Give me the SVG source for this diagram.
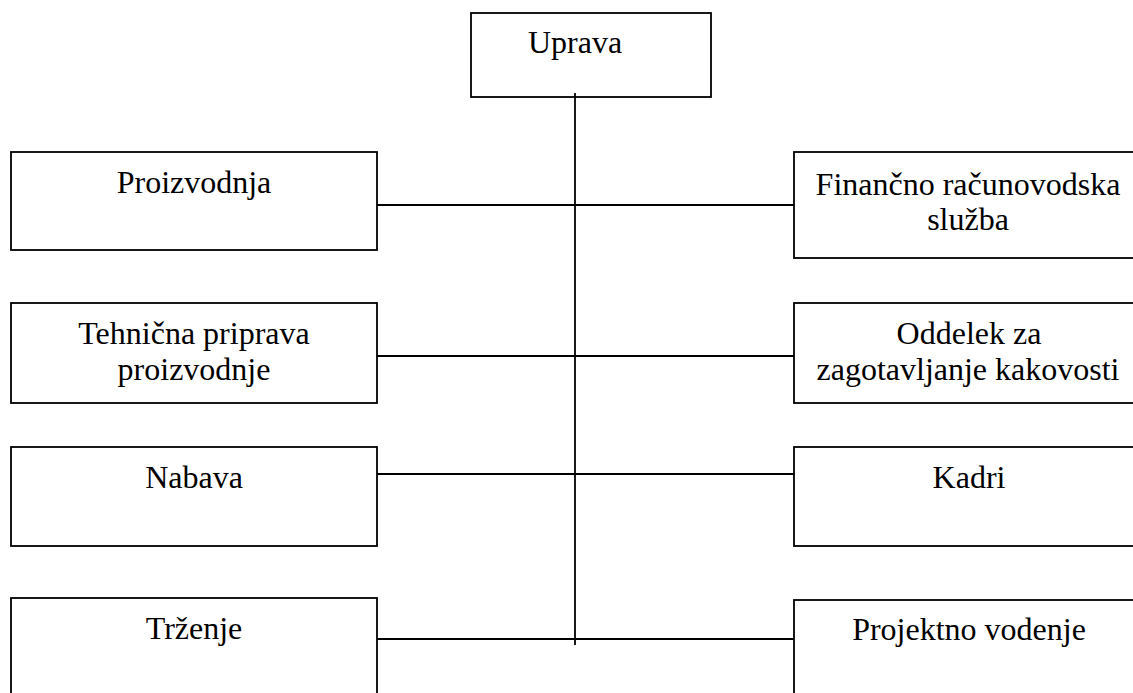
<svg xmlns="http://www.w3.org/2000/svg" width="1133" height="693" viewBox="0 0 1133 693">
<style>
.box{fill:#fff;stroke:#000;stroke-width:1.8}
.ln{stroke:#000;stroke-width:1.8;fill:none}
text{font-family:"Liberation Serif","Times New Roman",serif;font-size:32px;fill:#000;text-anchor:middle}
</style>
<rect width="1133" height="693" fill="#fff"/>
<g id="uprava"><rect class="box" x="471" y="13" width="240" height="84"/><text x="575" y="53">Uprava</text></g>
<g id="proizvodnja"><rect class="box" x="11" y="152" width="366" height="98"/><text x="194" y="193">Proizvodnja</text></g>
<g id="financno"><rect class="box" x="794" y="152" width="348" height="106"/><text x="968" y="195">Finančno računovodska</text><text x="968" y="230">služba</text></g>
<g id="tehnicna"><rect class="box" x="11" y="303" width="366" height="100"/><text x="194" y="344">Tehnična priprava</text><text x="194" y="380">proizvodnje</text></g>
<g id="oddelek"><rect class="box" x="794" y="303" width="348" height="100"/><text x="969" y="344">Oddelek za</text><text x="968" y="380">zagotavljanje kakovosti</text></g>
<g id="nabava"><rect class="box" x="11" y="447" width="366" height="99"/><text x="194" y="488">Nabava</text></g>
<g id="kadri"><rect class="box" x="794" y="447" width="348" height="99"/><text x="969" y="488">Kadri</text></g>
<g id="trzenje"><rect class="box" x="11" y="598" width="366" height="110"/><text x="194" y="639">Trženje</text></g>
<g id="projektno"><rect class="box" x="794" y="600" width="348" height="110"/><text x="969" y="640">Projektno vodenje</text></g>
<g id="connectors">
<line class="ln" x1="575" y1="93" x2="575" y2="645"/>
<line class="ln" x1="377" y1="205" x2="794" y2="205"/>
<line class="ln" x1="377" y1="356" x2="794" y2="356"/>
<line class="ln" x1="377" y1="474" x2="794" y2="474"/>
<line class="ln" x1="377" y1="639" x2="794" y2="639"/>
</g>
</svg>
